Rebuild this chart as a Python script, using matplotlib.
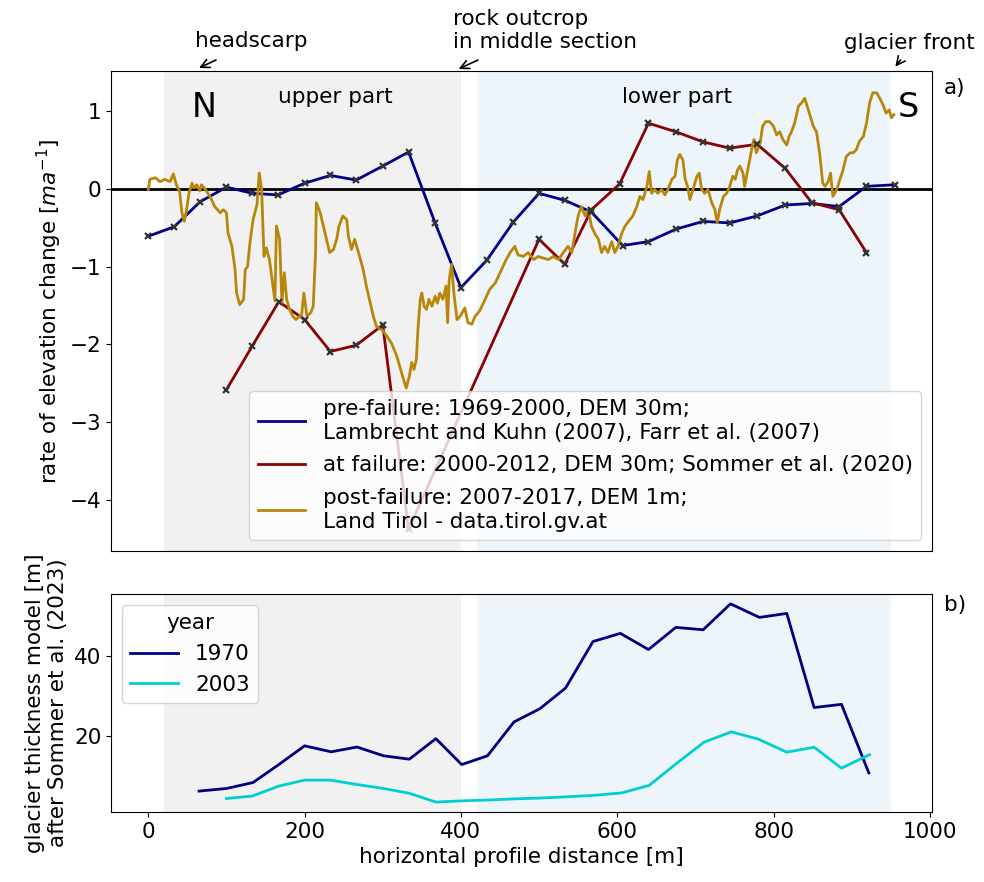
import matplotlib
matplotlib.use('Agg')
import matplotlib.pyplot as plt

# profilo: tassi di variazione di quota (pannello a) e spessore modellato (pannello b)

pre_x = [0, 33, 66, 100, 133, 166, 200, 233, 266, 300, 333, 367, 400, 433, 467, 500, 533, 567,
         607, 640, 675, 710, 744, 779, 815, 849, 884, 919, 955]
pre_y = [-0.61, -0.49, -0.17, 0.02, -0.06, -0.08, 0.07, 0.17, 0.11, 0.29, 0.47, -0.44, -1.27, -0.92,
         -0.43, -0.06, -0.15, -0.30, -0.73, -0.68, -0.52, -0.42, -0.44, -0.35, -0.21, -0.19, -0.23,
         0.03, 0.05]

at_x = [100, 133, 167, 200, 233, 266, 300, 333, 500, 533, 567, 603, 640, 675, 710, 744, 779, 815,
        849, 884, 919]
at_y = [-2.58, -2.02, -1.45, -1.68, -2.09, -2.01, -1.75, -4.37, -0.65, -0.97, -0.27, 0.06, 0.84,
        0.73, 0.60, 0.52, 0.57, 0.26, -0.18, -0.27, -0.82]

post_x = [0, 2, 9, 15, 21, 28, 32, 36, 40, 43, 46, 49, 52, 56, 58, 62, 66, 68, 73, 79, 85, 92, 96,
          100, 102, 107, 111, 113, 117, 122, 124, 127, 130, 134, 139, 142, 145, 148, 151, 155, 159,
          162, 164, 168, 171, 174, 177, 180, 185, 189, 193, 196, 199, 203, 208, 211, 214, 215, 220,
          224, 228, 232, 237, 241, 244, 249, 254, 256, 260, 264, 269, 275, 279, 284, 288, 292, 299,
          305, 311, 318, 324, 330, 334, 337, 340, 343, 345, 348, 350, 353, 356, 359, 363, 367, 370,
          373, 377, 381, 383, 385, 388, 391, 395, 399, 405, 409, 414, 418, 424, 431, 437, 444, 450,
          458, 463, 469, 473, 480, 486, 493, 499, 505, 512, 518, 525, 531, 537, 542, 546, 550, 554,
          559, 563, 567, 571, 576, 580, 584, 588, 593, 597, 601, 606, 610, 616, 620, 625, 629, 633,
          638, 641, 644, 648, 652, 657, 661, 665, 670, 674, 677, 680, 684, 687, 690, 693, 697, 702,
          705, 708, 712, 716, 721, 725, 728, 731, 736, 740, 744, 748, 751, 754, 757, 761, 763, 768,
          772, 775, 778, 783, 786, 790, 795, 800, 804, 808, 812, 817, 820, 823, 827, 832, 836, 840,
          843, 847, 851, 855, 859, 863, 866, 870, 873, 876, 881, 885, 889, 893, 898, 902, 906, 910,
          915, 919, 923, 927, 932, 936, 940, 944, 948, 951, 954]
post_y = [-0.01, 0.12, 0.14, 0.09, 0.12, 0.09, 0.19, 0.05, -0.03, -0.31, -0.42, -0.27, -0.06, 0.07,
          0.01, 0.05, -0.03, 0.05, -0.01, -0.10, -0.23, -0.31, -0.27, -0.31, -0.57, -0.74, -1.04,
          -1.34, -1.49, -1.42, -1.04, -1.00, -0.70, -0.40, -0.21, 0.20, -0.01, -0.87, -0.76, -0.91,
          -1.21, -1.44, -0.48, -0.65, -1.47, -1.08, -1.42, -1.53, -1.64, -1.68, -1.64, -1.64, -1.34,
          -1.64, -1.59, -1.51, -0.82, -0.18, -0.31, -0.48, -0.65, -0.82, -0.78, -0.65, -0.48, -0.35,
          -0.40, -0.61, -0.78, -0.65, -0.82, -1.04, -1.25, -1.47, -1.64, -1.77, -1.81, -1.89, -1.98,
          -2.15, -2.36, -2.56, -2.41, -2.23, -2.32, -2.19, -1.81, -1.42, -1.34, -1.51, -1.55, -1.42,
          -1.51, -1.38, -1.47, -1.34, -1.42, -1.25, -1.72, -1.17, -0.97, -1.34, -1.68, -1.64, -1.53,
          -1.72, -1.74, -1.64, -1.57, -1.42, -1.29, -1.21, -1.08, -0.91, -0.82, -0.74, -0.85, -0.87,
          -0.82, -0.91, -0.87, -0.89, -0.91, -0.87, -0.91, -0.82, -0.74, -0.82, -0.57, -0.35, -0.23,
          -0.35, -0.27, -0.48, -0.57, -0.65, -0.82, -0.74, -0.82, -0.68, -0.82, -0.74, -0.57, -0.48,
          -0.40, -0.35, -0.23, -0.10, -0.14, 0.03, 0.22, -0.06, -0.01, -0.06, -0.01, -0.08, -0.01,
          0.12, 0.16, 0.37, 0.44, 0.37, 0.12, 0.03, -0.14, -0.01, 0.16, 0.20, -0.01, -0.06, -0.01,
          -0.18, -0.27, -0.44, -0.27, -0.10, -0.06, 0.03, 0.16, 0.12, 0.24, 0.29, 0.20, 0.03, 0.29,
          0.50, 0.63, 0.46, 0.59, 0.80, 0.86, 0.86, 0.80, 0.69, 0.73, 0.63, 0.56, 0.67, 0.73, 0.84,
          1.06, 1.10, 1.16, 1.06, 0.93, 0.80, 0.73, 0.46, 0.07, 0.03, 0.09, 0.20, -0.10, -0.01, 0.12,
          0.24, 0.41, 0.46, 0.46, 0.50, 0.61, 0.67, 0.84, 1.10, 1.23, 1.23, 1.16, 1.08, 0.97, 1.01,
          0.91, 0.95]

th1970_x = [65, 100, 134, 167, 200, 234, 267, 301, 334, 368, 401, 434, 468, 501, 534, 569, 604,
            640, 675, 710, 745, 782, 817, 852, 887, 922]
th1970_y = [6.25, 6.9, 8.4, 12.9, 17.6, 16.1, 17.3, 15.1, 14.25, 19.4, 12.9, 15.1, 23.6, 26.9,
            32.1, 43.75, 45.8, 41.75, 47.3, 46.7, 53.2, 49.8, 50.8, 27.2, 28.0, 10.8]
th2003_x = [100, 133, 167, 200, 233, 267, 301, 334, 368, 401, 434, 468, 501, 534, 571, 606, 641,
            676, 711, 746, 781, 817, 852, 887, 923]
th2003_y = [4.4, 5.0, 7.5, 9.0, 9.0, 7.9, 6.9, 5.7, 3.5, 3.8, 4.0, 4.3, 4.5, 4.8, 5.2, 5.8, 7.7,
            13.2, 18.5, 21.1, 19.25, 16.0, 17.25, 12.0, 15.4]

plt.rcParams['font.size'] = 15.5

fig = plt.figure(figsize=(9.84, 8.82), dpi=100)
ax1 = fig.add_axes([0.1128, 0.3753, 0.8343, 0.5442])
ax2 = fig.add_axes([0.1128, 0.0794, 0.8343, 0.2472], sharex=ax1)

for ax in (ax1, ax2):
    ax.axvspan(20, 400, color='#f1f1f1', lw=0, zorder=0)
    ax.axvspan(420, 950, color='#edf5fb', lw=0, zorder=0)

# pannello a
ax1.axhline(0, color='k', lw=2, zorder=1)
ax1.plot(pre_x, pre_y, color='darkblue', lw=2, zorder=3,
         label='pre-failure: 1969-2000, DEM 30m;\nLambrecht and Kuhn (2007), Farr et al. (2007)')
ax1.plot(pre_x, pre_y, ls='none', marker='x', ms=5, mew=1.6, color='0.2', zorder=4)
ax1.plot(at_x, at_y, color='darkred', lw=2, zorder=3,
         label='at failure: 2000-2012, DEM 30m; Sommer et al. (2020)')
ax1.plot(at_x, at_y, ls='none', marker='x', ms=5, mew=1.6, color='0.2', zorder=4)
ax1.plot(post_x, post_y, color='darkgoldenrod', lw=2, zorder=3,
         label='post-failure: 2007-2017, DEM 1m;\nLand Tirol - data.tirol.gv.at')
ax1.set_ylabel('rate of elevation change [$ma^{-1}$]')
ax1.tick_params(axis='x', bottom=False, labelbottom=False)
leg = ax1.legend(loc='lower right', handlelength=2.2, labelspacing=0.6)
leg.set_zorder(10)

ax1.text(72, 1.04, 'N', fontsize=24, ha='center', va='center')
ax1.text(972, 1.04, 'S', fontsize=24, ha='center', va='center')
ax1.text(239, 1.17, 'upper part', ha='center', va='center')
ax1.text(676, 1.17, 'lower part', ha='center', va='center')
ax1.text(1.028, 0.965, 'a)', transform=ax1.transAxes, ha='center', va='center')

# frecce sopra il pannello a
arr = dict(arrowstyle='->', color='k', lw=1.2, shrinkA=0, shrinkB=0)
ax1.text(0.1705, 1.062, 'headscarp', transform=ax1.transAxes, ha='center', va='center')
ax1.annotate('', xy=(0.1072, 1.0063), xytext=(0.1279, 1.0229), xycoords='axes fraction',
             arrowprops=arr, annotation_clip=False)
ax1.text(0.4166, 1.085, 'rock outcrop\nin middle section', transform=ax1.transAxes,
         ha='left', va='center')
ax1.annotate('', xy=(0.4235, 1.0042), xytext=(0.447, 1.0229), xycoords='axes fraction',
             arrowprops=arr, annotation_clip=False)
ax1.text(0.973, 1.058, 'glacier front', transform=ax1.transAxes, ha='center', va='center')
ax1.annotate('', xy=(0.9554, 1.009), xytext=(0.9617, 1.0229), xycoords='axes fraction',
             arrowprops=arr, annotation_clip=False)

# pannello b
ax2.plot(th1970_x, th1970_y, color='navy', lw=2, label='1970')
ax2.plot(th2003_x, th2003_y, color='darkturquoise', lw=2, label='2003')
ax2.set_ylabel('glacier thickness model [m]\nafter Sommer et al. (2023)')
ax2.set_xlabel('horizontal profile distance [m]')
ax2.set_yticks([20, 40])
ax2.legend(title='year', loc='upper left', handlelength=2.2)
ax2.text(1.028, 0.95, 'b)', transform=ax2.transAxes, ha='center', va='center')

fig.savefig('out.png', dpi=100)
